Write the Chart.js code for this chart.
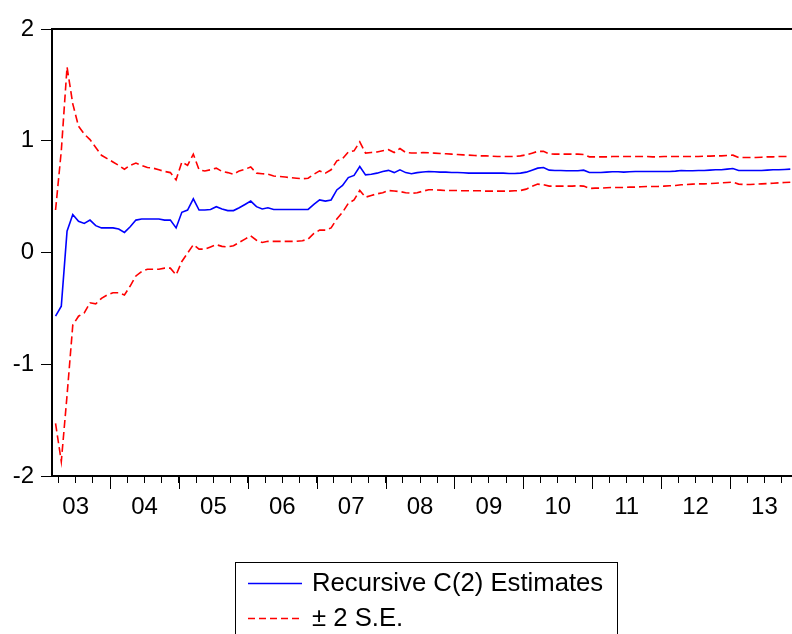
<!DOCTYPE html>
<html>
<head>
<meta charset="utf-8">
<script src="https://cdn.jsdelivr.net/npm/chart.js@4/dist/chart.umd.min.js"></script>
<style>
  html, body { margin: 0; padding: 0; background: #fff; }
  canvas { display: block; }
</style>
</head>
<body>
<canvas id="c" width="792" height="634"></canvas>
<script>
// Monthly recursive estimates of C(2), first observation 2003M03 (month index 2 from Jan 2003)
const firstMonthIndex = 2;

const yearLabels = ['03', '04', '05', '06', '07', '08', '09', '10', '11', '12', '13'];

const estimate = [
  -0.57, -0.48, 0.19, 0.34, 0.28, 0.26, 0.29, 0.24, 0.22, 0.22,
  0.22, 0.21, 0.18, 0.23, 0.29, 0.30, 0.30, 0.30, 0.30, 0.29, 0.29, 0.22,
  0.36, 0.38, 0.48, 0.38, 0.38, 0.385, 0.41, 0.39, 0.375, 0.375, 0.40, 0.43,
  0.46, 0.41, 0.39, 0.40, 0.385, 0.385, 0.385, 0.385, 0.385, 0.385, 0.385, 0.43,
  0.47, 0.46, 0.47, 0.56, 0.60, 0.67, 0.69, 0.77, 0.695, 0.70, 0.71, 0.725,
  0.735, 0.715, 0.74, 0.715, 0.705, 0.715, 0.72, 0.725, 0.722, 0.719, 0.719, 0.716,
  0.716, 0.713, 0.71, 0.71, 0.71, 0.71, 0.71, 0.71, 0.71, 0.707, 0.707, 0.71,
  0.719, 0.737, 0.755, 0.76, 0.737, 0.734, 0.734, 0.731, 0.731, 0.731, 0.737, 0.716,
  0.716, 0.716, 0.719, 0.722, 0.722, 0.719, 0.722, 0.725, 0.725, 0.725, 0.725, 0.725,
  0.725, 0.725, 0.728, 0.734, 0.731, 0.731, 0.734, 0.734, 0.737, 0.74, 0.74, 0.746,
  0.752, 0.734, 0.734, 0.734, 0.734, 0.734, 0.737, 0.74, 0.74, 0.743, 0.746
];

const upperBand = [
  0.38, 0.91, 1.66, 1.33, 1.13, 1.06, 1.01, 0.94, 0.87, 0.84,
  0.81, 0.78, 0.745, 0.78, 0.80, 0.78, 0.76, 0.755, 0.74, 0.725, 0.715, 0.65,
  0.81, 0.78, 0.88, 0.74, 0.73, 0.74, 0.755, 0.725, 0.715, 0.70, 0.73, 0.745,
  0.765, 0.71, 0.705, 0.70, 0.685, 0.68, 0.675, 0.67, 0.665, 0.66, 0.665, 0.70,
  0.73, 0.71, 0.74, 0.82, 0.84, 0.90, 0.91, 0.99, 0.89, 0.895, 0.90, 0.91,
  0.92, 0.895, 0.93, 0.895, 0.89, 0.89, 0.895, 0.892, 0.889, 0.886, 0.883, 0.88,
  0.877, 0.874, 0.871, 0.868, 0.865, 0.865, 0.862, 0.859, 0.859, 0.859, 0.859, 0.865,
  0.874, 0.889, 0.905, 0.905, 0.883, 0.88, 0.88, 0.88, 0.88, 0.88, 0.877, 0.856,
  0.856, 0.856, 0.856, 0.859, 0.859, 0.859, 0.859, 0.859, 0.859, 0.859, 0.856, 0.856,
  0.859, 0.859, 0.859, 0.859, 0.859, 0.859, 0.859, 0.862, 0.862, 0.865, 0.865, 0.868,
  0.871, 0.85, 0.85, 0.85, 0.85, 0.853, 0.856, 0.856, 0.859, 0.859, 0.859
];

const lowerBand = [
  -1.53, -1.87, -1.28, -0.65, -0.57, -0.54, -0.45, -0.46, -0.41, -0.38,
  -0.36, -0.36, -0.38, -0.30, -0.21, -0.17, -0.15, -0.15, -0.15, -0.14, -0.14, -0.20,
  -0.08, -0.005, 0.07, 0.03, 0.03, 0.05, 0.07, 0.055, 0.05, 0.06, 0.09, 0.12,
  0.15, 0.11, 0.09, 0.10, 0.10, 0.10, 0.10, 0.10, 0.10, 0.105, 0.12, 0.17,
  0.20, 0.20, 0.22, 0.30, 0.36, 0.44, 0.47, 0.555, 0.495, 0.51, 0.525, 0.535,
  0.555, 0.55, 0.545, 0.535, 0.53, 0.535, 0.549, 0.561, 0.561, 0.558, 0.555, 0.555,
  0.555, 0.552, 0.552, 0.552, 0.552, 0.549, 0.549, 0.549, 0.549, 0.549, 0.552, 0.555,
  0.567, 0.591, 0.612, 0.606, 0.594, 0.594, 0.594, 0.594, 0.594, 0.597, 0.594, 0.573,
  0.576, 0.576, 0.579, 0.582, 0.582, 0.582, 0.585, 0.585, 0.588, 0.591, 0.591, 0.591,
  0.594, 0.597, 0.600, 0.606, 0.609, 0.612, 0.614, 0.614, 0.617, 0.62, 0.623, 0.626,
  0.629, 0.612, 0.609, 0.609, 0.612, 0.614, 0.617, 0.62, 0.623, 0.626, 0.629
];

const seriesNames = ['Recursive C(2) Estimates', '\u00B1 2 S.E.'];

// each monthly observation sits in the middle of its month on the time axis
const toPoints = arr => arr.map((v, i) => ({ x: firstMonthIndex + i + 0.5, y: v }));

const FONT = '"Liberation Sans", Arial, Helvetica, sans-serif';

// frame top edge, longer year ticks and the boxed legend
const decorations = {
  id: 'decorations',
  afterDraw(chart) {
    const ctx = chart.ctx;
    const area = chart.chartArea;
    const xs = chart.scales.x;
    ctx.save();
    // top frame line
    ctx.strokeStyle = '#000';
    ctx.lineWidth = 2;
    ctx.beginPath();
    ctx.moveTo(area.left - 1, area.top);
    ctx.lineTo(area.right, area.top);
    ctx.stroke();

    // year boundary ticks extend further than quarter ticks
    ctx.lineWidth = 1;
    ctx.strokeStyle = '#000';
    for (let m = 12; m < xs.max; m += 12) {
      const px = Math.round(xs.getPixelForValue(m)) + 0.5;
      ctx.beginPath();
      ctx.moveTo(px, area.bottom);
      ctx.lineTo(px, area.bottom + 13);
      ctx.stroke();
    }

    // legend box
    const bx = 235.5, by = 562.5, bw = 382, bh = 90;
    ctx.strokeStyle = '#000';
    ctx.lineWidth = 1;
    ctx.strokeRect(bx, by, bw, bh);

    const ds = chart.data.datasets;
    const rows = [
      { y: 583, color: ds[0].borderColor, dash: [], text: seriesNames[0] },
      { y: 618, color: ds[1].borderColor, dash: [7, 4], text: seriesNames[1] }
    ];
    ctx.font = '25.7px ' + FONT;
    ctx.textBaseline = 'middle';
    ctx.textAlign = 'left';
    rows.forEach(r => {
      ctx.strokeStyle = r.color;
      ctx.lineWidth = 1.3;
      ctx.setLineDash(r.dash);
      ctx.beginPath();
      ctx.moveTo(248, r.y + 0.5);
      ctx.lineTo(302, r.y + 0.5);
      ctx.stroke();
      ctx.setLineDash([]);
      ctx.fillStyle = '#000';
      ctx.fillText(r.text, 312, r.y + 1);
    });
    ctx.restore();
  }
};

new Chart(document.getElementById('c'), {
  type: 'line',
  data: {
    datasets: [
      {
        label: seriesNames[0],
        data: toPoints(estimate),
        borderColor: '#0000FF',
        borderWidth: 1.6,
        pointRadius: 0,
        tension: 0,
        fill: false
      },
      {
        label: seriesNames[1],
        data: toPoints(upperBand),
        borderColor: '#FF0000',
        borderWidth: 1.6,
        borderDash: [8, 4],
        pointRadius: 0,
        tension: 0,
        fill: false
      },
      {
        label: seriesNames[1] + ' lower',
        data: toPoints(lowerBand),
        borderColor: '#FF0000',
        borderWidth: 1.6,
        borderDash: [8, 4],
        pointRadius: 0,
        tension: 0,
        fill: false
      }
    ]
  },
  options: {
    responsive: false,
    animation: false,
    devicePixelRatio: 1,
    layout: { padding: { top: 29, right: 0, bottom: 118, left: 0 } },
    plugins: {
      legend: { display: false },
      tooltip: { enabled: false }
    },
    scales: {
      x: {
        type: 'linear',
        min: 1.88,
        max: 130.8,
        afterFit(scale) { scale.height = 40; },
        afterBuildTicks(scale) {
          const t = [];
          for (let m = 3; m < scale.max; m += 3) t.push({ value: m });
          scale.ticks = t;
        },
        ticks: {
          autoSkip: false,
          maxRotation: 0,
          minRotation: 0,
          padding: 10,
          color: '#000',
          font: { family: FONT, size: 24 },
          callback(value) {
            if (value % 12 === 6) return yearLabels[(value - 6) / 12];
            return '';
          }
        },
        grid: {
          drawOnChartArea: false,
          tickLength: 7,
          tickColor: '#000',
          tickWidth: 1
        },
        border: { display: true, color: '#000', width: 2 }
      },
      y: {
        type: 'linear',
        min: -2,
        max: 2,
        afterFit(scale) { scale.width = 52; },
        ticks: {
          stepSize: 1,
          padding: 7,
          color: '#000',
          font: { family: FONT, size: 24 }
        },
        grid: {
          drawOnChartArea: false,
          tickLength: 11,
          tickColor: '#000',
          tickWidth: 1
        },
        border: { display: true, color: '#000', width: 2 }
      }
    }
  },
  plugins: [decorations]
});
</script>
</body>
</html>
